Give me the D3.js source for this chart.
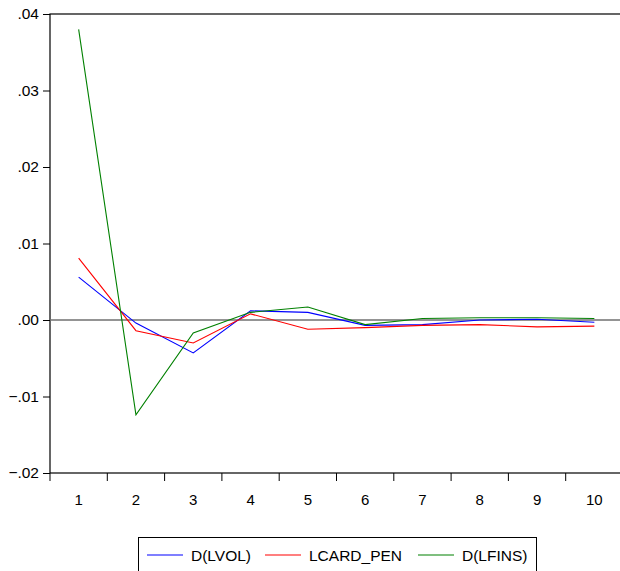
<!DOCTYPE html>
<html>
<head>
<meta charset="utf-8">
<script src="https://cdn.jsdelivr.net/npm/d3@7"></script>
<style>
  body { margin: 0; background: #fff; }
  text { font-family: "Liberation Sans", Arial, sans-serif; }
</style>
</head>
<body>
<script>
// periods and responses
var periods = [1, 2, 3, 4, 5, 6, 7, 8, 9, 10];
var dlvol = [0.0056, -0.0004, -0.0043, 0.0012, 0.0010, -0.0007, -0.0006, 0.0000, 0.0001, -0.0003];
var lcardPen = [0.0081, -0.0014, -0.0030, 0.0008, -0.0012, -0.0010, -0.0007, -0.0006, -0.0009, -0.0008];
var dlfins = [0.0380, -0.0124, -0.0017, 0.0010, 0.0017, -0.0006, 0.0002, 0.0003, 0.0003, 0.0002];
var yTicks = [-0.02, -0.01, 0, 0.01, 0.02, 0.03, 0.04];

var seriesNames = ["D(LVOL)", "LCARD_PEN", "D(LFINS)"];
var seriesColors = ["#0000ff", "#ff0000", "#008000"];
var allSeries = [dlvol, lcardPen, dlfins];

var svgWidth = 620;
var svgHeight = 571;

var margin = { top: 14, left: 50 };
var width = 573;   // runs past the window edge like the original
var height = 459;

var svg = d3.select("body")
  .append("svg")
  .attr("width", svgWidth)
  .attr("height", svgHeight);

var chart = svg.append("g")
  .attr("transform", `translate(${margin.left}, ${margin.top})`);

var xBand = d3.scaleBand()
  .domain(periods)
  .range([0, width]);

var yScale = d3.scaleLinear()
  .domain([-0.02, 0.04])
  .range([height, 0]);

// frame
chart.append("rect")
  .attr("width", width)
  .attr("height", height)
  .attr("fill", "none")
  .attr("stroke", "#000")
  .attr("stroke-width", 1.2);

// zero line
chart.append("line")
  .attr("x1", 0)
  .attr("x2", width)
  .attr("y1", yScale(0))
  .attr("y2", yScale(0))
  .attr("stroke", "#707070")
  .attr("stroke-width", 1.6);

// y axis
var fmt = function (d) {
  if (d === 0) return ".00";
  var s = d3.format(".2f")(d);
  return s.replace("0.", ".");
};
var yAxis = d3.axisLeft(yScale)
  .tickValues(yTicks)
  .tickSize(7)
  .tickPadding(4)
  .tickFormat(fmt);
var gy = chart.append("g").call(yAxis);
gy.select(".domain").remove();
gy.selectAll("text").style("font-size", "15.5px").attr("fill", "#000");

// x ticks between bands
var xBounds = periods.map(function (p) { return xBand(p); });
chart.selectAll(".xtick")
  .data(xBounds)
  .enter()
  .append("line")
  .attr("class", "xtick")
  .attr("x1", d => d)
  .attr("x2", d => d)
  .attr("y1", height)
  .attr("y2", height + 8)
  .attr("stroke", "#000");

chart.selectAll(".xlabel")
  .data(periods)
  .enter()
  .append("text")
  .attr("class", "xlabel")
  .attr("x", d => xBand(d) + xBand.bandwidth() / 2)
  .attr("y", height + 32)
  .attr("text-anchor", "middle")
  .style("font-size", "15px")
  .text(d => d);

// lines
var line = d3.line()
  .x(function (d, i) { return xBand(periods[i]) + xBand.bandwidth() / 2; })
  .y(function (d) { return yScale(d); });

chart.selectAll(".series")
  .data(allSeries)
  .enter()
  .append("path")
  .attr("class", "series")
  .attr("d", d => line(d))
  .attr("fill", "none")
  .attr("stroke", (d, i) => seriesColors[i])
  .attr("stroke-width", 1.1);

// legend
var legend = svg.append("g");
legend.append("rect")
  .attr("x", 138.5)
  .attr("y", 537.5)
  .attr("width", 398)
  .attr("height", 40)
  .attr("fill", "#fff")
  .attr("stroke", "#000")
  .attr("stroke-width", 1);

var legendX = [147, 265, 418];
seriesNames.forEach(function (name, i) {
  legend.append("line")
    .attr("x1", legendX[i])
    .attr("x2", legendX[i] + 36)
    .attr("y1", 555)
    .attr("y2", 555)
    .attr("stroke", seriesColors[i])
    .attr("stroke-width", 1.1);
  legend.append("text")
    .attr("x", legendX[i] + 44)
    .attr("y", 560.5)
    .style("font-size", "15.5px")
    .text(name);
});
</script>
</body>
</html>
